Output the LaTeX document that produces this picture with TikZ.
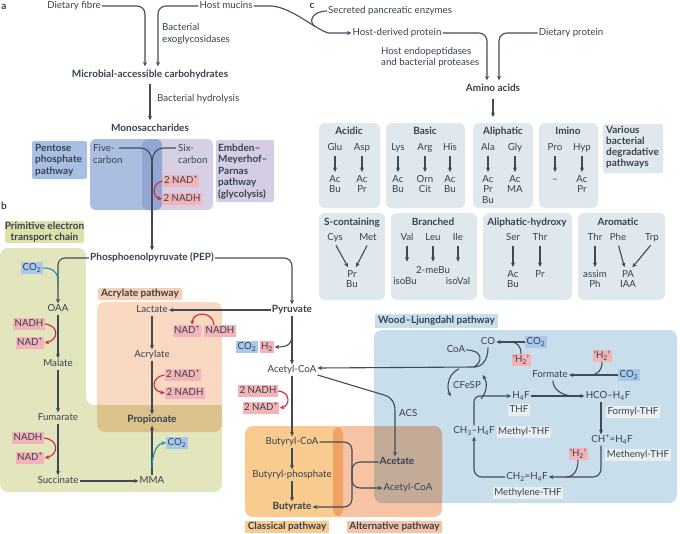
\documentclass[tikz,border=0pt]{standalone}
\usepackage{fontspec}
\setmainfont{Lato}
\usetikzlibrary{arrows.meta}
\definecolor{txtc}{HTML}{36424D}
\definecolor{linec}{HTML}{3F4C57}
\definecolor{redc}{HTML}{D3263A}
\definecolor{redf}{HTML}{F4B3B9}
\definecolor{bluef}{HTML}{A6C8EC}
\definecolor{tealc}{HTML}{1F8DB8}
\definecolor{aaf}{HTML}{DFE8EC}
\definecolor{olivef}{HTML}{E3E5BC}
\definecolor{olivel}{HTML}{DEE0A9}
\definecolor{peachf}{HTML}{F9D9C2}
\definecolor{peachl}{HTML}{F8CFB2}
\definecolor{tanf}{HTML}{DCC28C}
\definecolor{classf}{HTML}{F9CB8F}
\definecolor{altf}{HTML}{F6C4A5}
\definecolor{ovlf}{HTML}{F1A262}
\definecolor{wlf}{HTML}{C8DEEA}
\definecolor{wlovf}{HTML}{C3AB98}
\definecolor{thff}{HTML}{E7EFF3}
\definecolor{pppf}{HTML}{A9BEE3}
\definecolor{fivef}{HTML}{ABBEE2}
\definecolor{sixf}{HTML}{D7D0E4}
\definecolor{fsovf}{HTML}{93A6D2}
\definecolor{empf}{HTML}{D4CDE3}
\begin{document}
\begin{tikzpicture}[x=1pt,y=1pt,
  fnt/.style={font=\fontsize{9.7}{11.5}\selectfont},
  lbl/.style={fnt, text=txtc, inner sep=1pt, text height=7pt, text depth=1.9pt},
  bld/.style={lbl, font=\fontsize{10}{11.5}\selectfont\bfseries},
  ml/.style={fnt, text=txtc, inner sep=1pt, align=center},
  mlb/.style={ml, font=\fontsize{10}{11.5}\selectfont\bfseries},
  res/.style={ml, font=\fontsize{9.7}{10.5}\selectfont, anchor=north},
  redbox/.style={lbl, fill=redf, inner sep=1.5pt},
  bluebox/.style={lbl, fill=bluef, inner sep=1.5pt},
  thfbox/.style={lbl, fill=thff, inner sep=1.5pt},
  conn/.style={draw=linec, line width=1.1pt},
  arr/.style={conn, -{Stealth[length=4.5pt,width=4pt]}},
  aarr/.style={arr, shorten <=2pt, shorten >=2pt},
  redarr/.style={draw=redc, line width=1.1pt, -{Stealth[length=4.5pt,width=4pt]}},
  tealarr/.style={draw=tealc, line width=1.1pt, -{Stealth[length=4.5pt,width=4pt]}},
]
\useasboundingbox (0,0) rectangle (680,-533);
% ---------- backgrounds a
\fill[pppf, rounded corners=2pt] (32,-141) rectangle (87,-179);
\fill[fivef, rounded corners=6pt] (90,-139) rectangle (162,-210);
\fill[sixf, rounded corners=6pt] (142,-139) rectangle (213,-210);
\begin{scope}
\clip[rounded corners=6pt] (90,-139) rectangle (162,-210);
\fill[fsovf, rounded corners=6pt] (142,-139) rectangle (213,-210);
\end{scope}
\fill[empf, rounded corners=2pt] (216,-140) rectangle (274,-202);
% ---------- backgrounds b
\fill[olivel, rounded corners=2pt] (5,-221) rectangle (84,-243);
\fill[olivef, rounded corners=8pt] (0,-248) -- (86,-248) -- (86,-405) -- (222,-405) -- (222,-492) -- (0,-492) -- cycle;
\fill[peachl, rounded corners=2pt] (98,-288) rectangle (182,-300);
\fill[peachf, rounded corners=8pt] (97,-302) rectangle (222,-432);
\begin{scope}
\clip[rounded corners=8pt] (97,-302) rectangle (222,-432);
\fill[tanf] (97,-405) rectangle (222,-440);
\end{scope}
\fill[wlf, rounded corners=8pt] (374,-330) rectangle (677,-503);
\fill[classf, rounded corners=8pt] (245,-426) rectangle (343,-517);
\fill[altf, rounded corners=8pt] (333,-426) rectangle (442,-517);
\begin{scope}
\clip[rounded corners=8pt] (245,-426) rectangle (343,-517);
\fill[ovlf, rounded corners=8pt] (333,-426) rectangle (442,-517);
\end{scope}
\begin{scope}
\clip[rounded corners=8pt] (374,-330) rectangle (677,-503);
\fill[wlovf, rounded corners=8pt] (333,-426) rectangle (442,-517);
\end{scope}
\fill[classf] (245,-521) rectangle (329,-533);
\fill[altf] (347,-521) rectangle (442,-533);
\fill[wlf] (375,-314) rectangle (498,-328);
% ---------- backgrounds c
\fill[aaf, rounded corners=6pt] (319,-123) rectangle (380,-208);
\fill[aaf, rounded corners=6pt] (386,-123) rectangle (465,-208);
\fill[aaf, rounded corners=6pt] (473,-123) rectangle (533,-208);
\fill[aaf, rounded corners=6pt] (539,-123) rectangle (598,-208);
\fill[aaf, rounded corners=2pt] (603,-124) rectangle (663,-173);
\fill[aaf, rounded corners=6pt] (319,-213) rectangle (385,-300);
\fill[aaf, rounded corners=6pt] (391,-213) rectangle (477,-300);
\fill[aaf, rounded corners=6pt] (483,-213) rectangle (572,-300);
\fill[aaf, rounded corners=6pt] (578,-213) rectangle (665,-300);

% ---------- nodes a
\node[bld] (la) at (4,-7) {a};
\node[lbl] (df) at (74,-6) {Dietary fibre};
\node[lbl] (hm) at (226,-6) {Host mucins};
\node[ml, align=left, anchor=west] (bex) at (161,-34) {Bacterial\\exoglycosidases};
\node[bld] (mac) at (150,-75) {Microbial-accessible carbohydrates};
\node[lbl, anchor=west] (bh) at (156,-99) {Bacterial hydrolysis};
\node[bld] (mono) at (150,-129) {Monosaccharides};
\node[mlb, align=left, anchor=west] (ppp) at (34,-160) {Pentose\\phosphate\\pathway};
\node[ml, align=left, anchor=west] (five) at (92,-154) {Five-\\carbon};
\node[ml, align=left, anchor=west] (six) at (177,-154) {Six-\\carbon};
\node[redbox] (nadA) at (181,-181) {2 NAD\textsuperscript{+}};
\node[redbox] (nadhA) at (182,-199) {2 NADH};
\node[mlb, align=left, anchor=west] (emp) at (217,-171.5) {Embden–\\Meyerhof–\\Parnas\\pathway\\(glycolysis)};

% ---------- nodes c
\node[bld] (lc) at (312,-6) {c};
\node[lbl, anchor=west] (spe) at (327,-11) {Secreted pancreatic enzymes};
\node[lbl] (hdp) at (397,-33) {Host-derived protein};
\node[lbl] (dp) at (571,-33) {Dietary protein};
\node[ml, align=left, anchor=west] (hep) at (380,-57.5) {Host endopeptidases\\and bacterial proteases};
\node[bld] (aa) at (493,-89) {Amino acids};
\coordinate (aaend) at (493,-117);

\node[bld] (tacid) at (349,-132) {Acidic};
\node[lbl] (glu) at (335,-148) {Glu};
\node[lbl] (asp) at (362,-148) {Asp};
\node[res] (glur) at (335,-174) {Ac\\Bu};
\node[res] (aspr) at (362,-174) {Ac\\Pr};
\node[bld] (tbasic) at (425,-132) {Basic};
\node[lbl] (lys) at (398,-148) {Lys};
\node[lbl] (arg) at (425,-148) {Arg};
\node[lbl] (his) at (450,-148) {His};
\node[res] (lysr) at (398,-174) {Ac\\Bu};
\node[res] (argr) at (425,-174) {Orn\\Cit};
\node[res] (hisr) at (450,-174) {Ac\\Bu};
\node[bld] (taliph) at (503,-132) {Aliphatic};
\node[lbl] (ala) at (488,-148) {Ala};
\node[lbl] (gly) at (515,-148) {Gly};
\node[res] (alar) at (488,-174) {Ac\\Pr\\Bu};
\node[res] (glyr) at (515,-174) {Ac\\MA};
\node[bld] (timino) at (568,-132) {Imino};
\node[lbl] (pro) at (555,-148) {Pro};
\node[lbl] (hyp) at (582,-148) {Hyp};
\node[lbl, anchor=north] (pror) at (555,-174) {–};
\node[res] (hypr) at (582,-174) {Ac\\Pr};
\node[mlb, align=left, anchor=west, font=\fontsize{10}{11}\selectfont\bfseries] (vbd) at (605,-147.5) {Various\\bacterial\\degradative\\pathways};

\node[bld] (tsc) at (352,-223) {S-containing};
\node[lbl] (cys) at (335,-238) {Cys};
\node[lbl] (met) at (368,-238) {Met};
\node[res] (scr) at (352,-269) {Pr\\Bu};
\node[bld] (tbr) at (433,-223) {Branched};
\node[lbl] (val) at (407,-238) {Val};
\node[lbl] (leu) at (433,-238) {Leu};
\node[lbl] (ile) at (458,-238) {Ile};
\node[lbl] (mebu) at (433,-271) {2-meBu};
\node[lbl] (isobu) at (405,-282) {isoBu};
\node[lbl] (isoval) at (458,-282) {isoVal};
\node[bld] (tah) at (527,-223) {Aliphatic-hydroxy};
\node[lbl] (ser) at (513,-238) {Ser};
\node[lbl] (thr) at (540,-238) {Thr};
\node[res] (serr) at (513,-269) {Ac\\Bu};
\node[res] (thrr) at (540,-269) {Pr};
\node[bld] (tar) at (618,-223) {Aromatic};
\node[lbl] (thrb) at (595,-238) {Thr};
\node[lbl] (phe) at (618,-238) {Phe};
\node[lbl] (trp) at (652,-238) {Trp};
\node[res] (thrbr) at (595,-269) {assim\\Ph};
\node[res] (arr2) at (628,-269) {PA\\IAA};

% ---------- nodes b
\node[bld] (lb) at (4,-207) {b};
\node[mlb, font=\fontsize{10}{10.5}\selectfont\bfseries] (pet) at (44.5,-232) {Primitive electron\\transport chain};
\node[bld] (pep) at (152,-258) {Phosphoenolpyruvate (PEP)};
\node[bluebox] (co2a) at (32,-268) {CO\textsubscript{2}};
\node[lbl] (oaa) at (58,-309) {OAA};
\node[redbox] (nadhB) at (29,-324) {NADH};
\node[redbox] (nadB) at (30,-343) {NAD\textsuperscript{+}};
\node[lbl] (mal) at (58,-364) {Malate};
\node[lbl] (fum) at (58,-418) {Fumarate};
\node[redbox] (nadhC) at (28,-438) {NADH};
\node[redbox] (nadC) at (30,-458) {NAD\textsuperscript{+}};
\node[lbl] (suc) at (58,-481) {Succinate};
\node[lbl] (mma) at (152,-481) {MMA};
\node[bluebox] (co2b) at (177,-443) {CO\textsubscript{2}};
\node[bld] (prop) at (152,-420) {Propionate};
\node[bld] (acrl) at (140,-294) {Acrylate pathway};
\node[lbl] (lac) at (152,-310) {Lactate};
\node[redbox] (nadD) at (187,-331) {NAD\textsuperscript{+}};
\node[redbox] (nadhD) at (220,-331) {NADH};
\node[lbl] (acr) at (152,-355) {Acrylate};
\node[redbox] (nadE) at (183,-375) {2 NAD\textsuperscript{+}};
\node[redbox] (nadhE) at (185,-393) {2 NADH};
\node[bld] (pyr) at (292,-310) {Pyruvate};
\node[bluebox] (co2c) at (247,-347) {CO\textsubscript{2}};
\node[redbox] (h2a) at (267,-347) {H\textsubscript{2}};
\node[lbl] (acoa) at (292,-370) {Acetyl-CoA};
\node[redbox] (nadhF) at (258,-391) {2 NADH};
\node[redbox] (nadF) at (261,-408) {2 NAD\textsuperscript{+}};
\node[lbl] (bcoa) at (292,-442) {Butyryl-CoA};
\node[lbl] (bph) at (292,-475) {Butyryl-phosphate};
\node[bld] (but) at (292,-507) {Butyrate};
\node[bld] (acet) at (397,-462) {Acetate};
\node[lbl] (acoa2) at (408,-488) {Acetyl-CoA};
\node[lbl, anchor=west] (acs) at (398,-414) {ACS};
\node[bld] (clp) at (287,-527) {Classical pathway};
\node[bld] (alp) at (394.5,-527) {Alternative pathway};
\node[bld] (wlp) at (436.5,-321) {Wood–Ljungdahl pathway};

% ---------- nodes WL
\node[lbl] (co) at (488,-342) {CO};
\node[bluebox] (co2w) at (536,-342) {CO\textsubscript{2}};
\node[redbox] (h2w) at (521,-360) {‘H\textsubscript{2}’};
\node[lbl] (coa) at (456,-350) {CoA};
\node[lbl] (cfesp) at (467,-386) {CFeSP};
\node[lbl] (h4f) at (521,-396) {H\textsubscript{4}F};
\node[thfbox] (thf) at (519,-410) {THF};
\node[lbl] (form) at (550,-375) {Formate};
\node[redbox] (h2x) at (602,-356) {‘H\textsubscript{2}’};
\node[bluebox] (co2f) at (629,-375) {CO\textsubscript{2}};
\node[lbl] (hco) at (608,-396) {HCO–H\textsubscript{4}F};
\node[thfbox] (fthf) at (633,-412) {Formyl-THF};
\node[lbl] (chp) at (612,-440) {CH\textsuperscript{+}=H\textsubscript{4}F};
\node[thfbox] (mthf) at (638,-455) {Methenyl-THF};
\node[redbox] (h2y) at (578,-454) {‘H\textsubscript{2}’};
\node[lbl] (ch2) at (527,-477) {CH\textsubscript{2}=H\textsubscript{4}F};
\node[thfbox] (mlthf) at (528,-493) {Methylene-THF};
\node[lbl] (ch3) at (474,-431) {CH\textsubscript{3}–H\textsubscript{4}F};
\node[thfbox] (methyl) at (524,-432) {Methyl-THF};
\coordinate (wlj) at (474,-367);

% ---------- connectors a
\draw[arr, rounded corners=8pt, shorten >=3pt] (df.east) -| ([xshift=-5pt]mac.north);
\draw[arr, rounded corners=8pt, shorten >=3pt] (hm.west) -| ([xshift=8pt]mac.north);
\draw[arr, shorten <=3pt, shorten >=3pt] (mac.south) -- (mono.north);
\coordinate (fsj) at (152,-162);
\draw[conn] (119,-148) -- (141,-148) to[out=0,in=90] (fsj);
\draw[conn] (176,-148) -- (163,-148) to[out=180,in=90] (fsj);
\draw[arr, shorten >=2pt] (fsj) -- (pep.north);
\draw[redarr] (nadA.west) .. controls (152,-183) and (152,-197) .. (nadhA.west);

% ---------- connectors c
\draw[arr] (hm.east) -- (272,-6) .. controls (292,-8) and (312,-27) .. (328,-33) -- (hdp.west);
\draw[conn] (spe.west) .. controls (312,-11) and (308,-22) .. (315,-26.5);
\draw[arr, rounded corners=8pt, shorten >=3pt] (hdp.east) -| ([xshift=-6pt]aa.north);
\draw[arr, rounded corners=8pt, shorten >=3pt] (dp.west) -| ([xshift=6pt]aa.north);
\draw[arr, shorten <=4pt] (aa.south) -- (aaend);
\foreach \a/\b in {glu/glur,asp/aspr,lys/lysr,arg/argr,his/hisr,ala/alar,gly/glyr,pro/pror,hyp/hypr,ser/serr,thr/thrr,thrb/thrbr}
  \draw[aarr] (\a.south) -- (\b.north);
\draw[aarr] (cys.south) -- ([xshift=-3pt]scr.north);
\draw[aarr] (met.south) -- ([xshift=3pt]scr.north);
\draw[aarr] (phe.south) -- ([xshift=-3pt]arr2.north);
\draw[aarr] (trp.south) -- ([xshift=3pt]arr2.north);
\foreach \a in {val,leu,ile}
  \draw[aarr] (\a.south) -- ++(0,-20);

% ---------- connectors b
\draw[arr, rounded corners=7pt] (pep.west) -| (oaa.north);
\draw[draw=tealc, line width=1.1pt] (co2a.east) .. controls (52,-268) and (58,-271) .. (58,-282);
\draw[arr] (oaa.south) -- (mal.north);
\draw[redarr] (nadhB.east) .. controls (60,-326) and (58,-340) .. (nadB.east);
\draw[arr] (mal.south) -- (fum.north);
\draw[redarr] (nadhC.east) .. controls (60,-440) and (58,-455) .. (nadC.east);
\draw[arr] (fum.south) -- (suc.north);
\draw[arr] (suc.east) -- (mma.west);
\draw[arr] (mma.north) -- (prop.south);
\draw[tealarr] (152,-468) .. controls (152,-452) and (158,-443) .. (co2b.west);
\draw[arr] (pyr.west) -- (lac.east);
\draw[redarr] ([xshift=-6pt]nadhD.north) .. controls (213,-311) and (193,-311) .. ([xshift=5pt]nadD.north);
\draw[arr] (lac.south) -- (acr.north);
\draw[redarr] (nadE.west) .. controls (151,-377) and (151,-391) .. (nadhE.west);
\draw[arr] (acr.south) -- (prop.north);
\draw[arr, rounded corners=8pt] (pep.east) -| (pyr.north);
\draw[arr] (pyr.south) -- (acoa.north);
\draw[arr] (292,-334) .. controls (292,-344) and (288,-347) .. (h2a.east);
\draw[arr] (acoa.south) -- (bcoa.north);
\draw[redarr] (nadhF.east) .. controls (291,-392) and (290,-406) .. (nadF.east);
\draw[arr] (bcoa.south) -- (bph.north);
\draw[arr] (bph.south) -- (but.north);
\draw[arr, rounded corners=8pt] (bcoa.east) -- (352,-442) -- (352,-507) -- (but.east);
\draw[arr, rounded corners=8pt] (acet.west) -- (352,-462) -- (352,-488) -- (acoa2.west);
\draw[arr] ([yshift=-5pt]acoa.east) -- (384,-395) .. controls (393,-398) and (395,-403) .. (395,-412) -- ([xshift=-2pt]acet.north);
\draw[arr] (wlj) -- ([yshift=2pt]acoa.east);

% ---------- connectors WL
\draw[conn] (co.south) .. controls (488,-360) and (482,-367) .. (wlj);
\draw[conn] (coa.east) .. controls (483,-350) and (483,-362) .. (wlj);
\draw[arr] (co2w.west) -- (co.east);
\draw[conn] (h2w.north) .. controls (521,-346) and (517,-342) .. (510,-342);
\draw[arr] (cfesp.center) ++(115:19pt) arc[start angle=115, end angle=212, radius=19pt];
\draw[arr] (cfesp.center) ++(-42:19pt) arc[start angle=-42, end angle=35, radius=19pt];
\draw[arr, rounded corners=6pt] (ch3.north) |- (h4f.west);
\draw[arr] (h4f.east) -- (hco.west);
\draw[conn] ([xshift=3pt]form.south) to[out=-90,in=180] (574,-396);
\draw[arr] (co2f.west) -- (form.east);
\draw[conn] (h2x.south) .. controls (602,-370) and (598,-375) .. (590,-375);
\draw[arr] ([xshift=-7pt]hco.south) -- ([xshift=-11pt]chp.north);
\draw[arr, rounded corners=8pt] ([xshift=-11pt]chp.south) |- (ch2.east);
\draw[conn] (h2y.south) .. controls (578,-470) and (574,-477) .. (566,-477);
\draw[arr, rounded corners=8pt] (ch2.west) -| (ch3.south);
\end{tikzpicture}
\end{document}
